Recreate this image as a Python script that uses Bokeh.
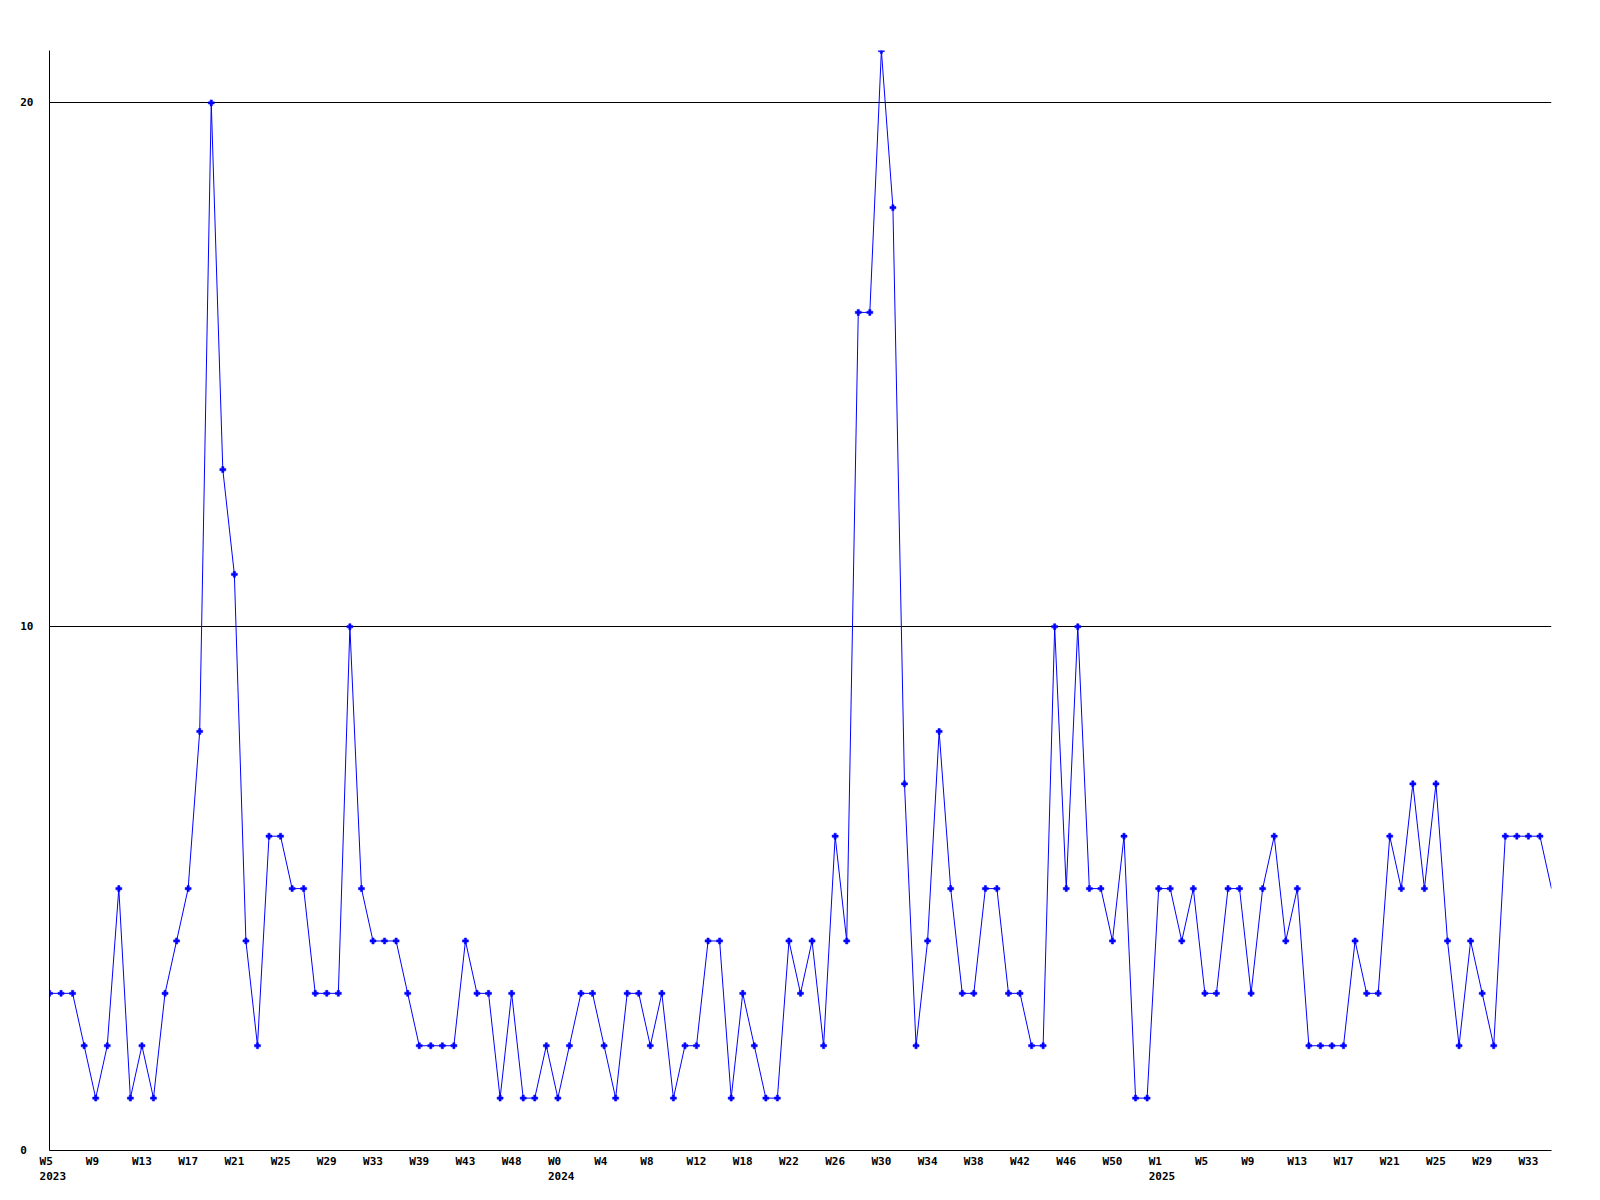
from bokeh.plotting import figure
from bokeh.models import Range1d, FixedTicker
from bokeh.embed import file_html
from bokeh.resources import INLINE

# ---- data ----
values = [3, 3, 3, 2, 1, 2, 5, 1, 2, 1,
          3, 4, 5, 8, 20, 13, 11, 4, 2, 6,
          6, 5, 5, 3, 3, 3, 10, 5, 4, 4,
          4, 3, 2, 2, 2, 2, 4, 3, 3, 1,
          3, 1, 1, 2, 1, 2, 3, 3, 2, 1,
          3, 3, 2, 3, 1, 2, 2, 4, 4, 1,
          3, 2, 1, 1, 4, 3, 4, 2, 6, 4,
          16, 16, 21, 18, 7, 2, 4, 8, 5, 3,
          3, 5, 5, 3, 3, 2, 2, 10, 5, 10,
          5, 5, 4, 6, 1, 1, 5, 5, 4, 5,
          3, 3, 5, 5, 3, 5, 6, 4, 5, 2,
          2, 2, 2, 4, 3, 3, 6, 5, 7, 5,
          7, 4, 2, 4, 3, 2, 6, 6, 6, 6,
          5]

week_labels = ["W5", "W9", "W13", "W17", "W21", "W25", "W29", "W33", "W39", "W43", "W48",
               "W0", "W4", "W8", "W12", "W18", "W22", "W26", "W30", "W34", "W38", "W42", "W46", "W50",
               "W1", "W5", "W9", "W13", "W17", "W21", "W25", "W29", "W33"]
year_labels = ["2023", "", "", "", "", "", "", "", "", "", "",
               "2024", "", "", "", "", "", "", "", "", "", "", "", "",
               "2025", "", "", "", "", "", "", "", ""]
label_step = 4
y_ticks = [0, 10, 20]

x = list(range(len(values)))
NB = "\u00a0"

tick_pos = [i * label_step for i in range(len(week_labels))]
overrides = {}
for pos, wk, yr in zip(tick_pos, week_labels, year_labels):
    top = NB + wk + NB * (4 - len(wk))
    if yr:
        overrides[pos] = top + "\n" + NB + yr
    else:
        overrides[pos] = top

FONT = "DejaVu Sans Mono"

p = figure(output_backend="svg", toolbar_location=None,
           frame_width=1502, frame_height=1100,
           min_border_left=49, min_border_right=30,
           min_border_top=50, min_border_bottom=36,
           x_range=Range1d(0, len(values) - 1), y_range=Range1d(0, 21))
p.outline_line_color = None
p.background_fill_color = "white"

# axes
p.xaxis.ticker = FixedTicker(ticks=tick_pos)
p.xaxis.major_label_overrides = overrides
p.yaxis.ticker = FixedTicker(ticks=y_ticks)
p.yaxis.major_label_overrides = {0: "0" + NB}
for ax in (p.xaxis, p.yaxis):
    ax.major_tick_out = 0
    ax.major_tick_in = 0
    ax.minor_tick_out = 0
    ax.minor_tick_in = 0
    ax.axis_line_color = "black"
    ax.axis_line_width = 1
    ax.major_label_text_font = FONT
    ax.major_label_text_font_style = "bold"
    ax.major_label_text_font_size = "11px"
    ax.major_label_text_color = "black"
p.xaxis.major_label_standoff = 4
p.yaxis.major_label_standoff = 16

p.xgrid.grid_line_color = None
p.ygrid.ticker = FixedTicker(ticks=y_ticks)
p.ygrid.grid_line_color = "black"
p.ygrid.grid_line_alpha = 1.0
p.ygrid.grid_line_width = 1

# series
p.line(x, values, line_color="#0000ff", line_width=1)
p.scatter(x[:-1], values[:-1], marker="plus", size=6,
          fill_color="#0000ff", line_color="#0000ff", line_width=0.5)

open("out.html", "w").write(file_html(p, INLINE))
